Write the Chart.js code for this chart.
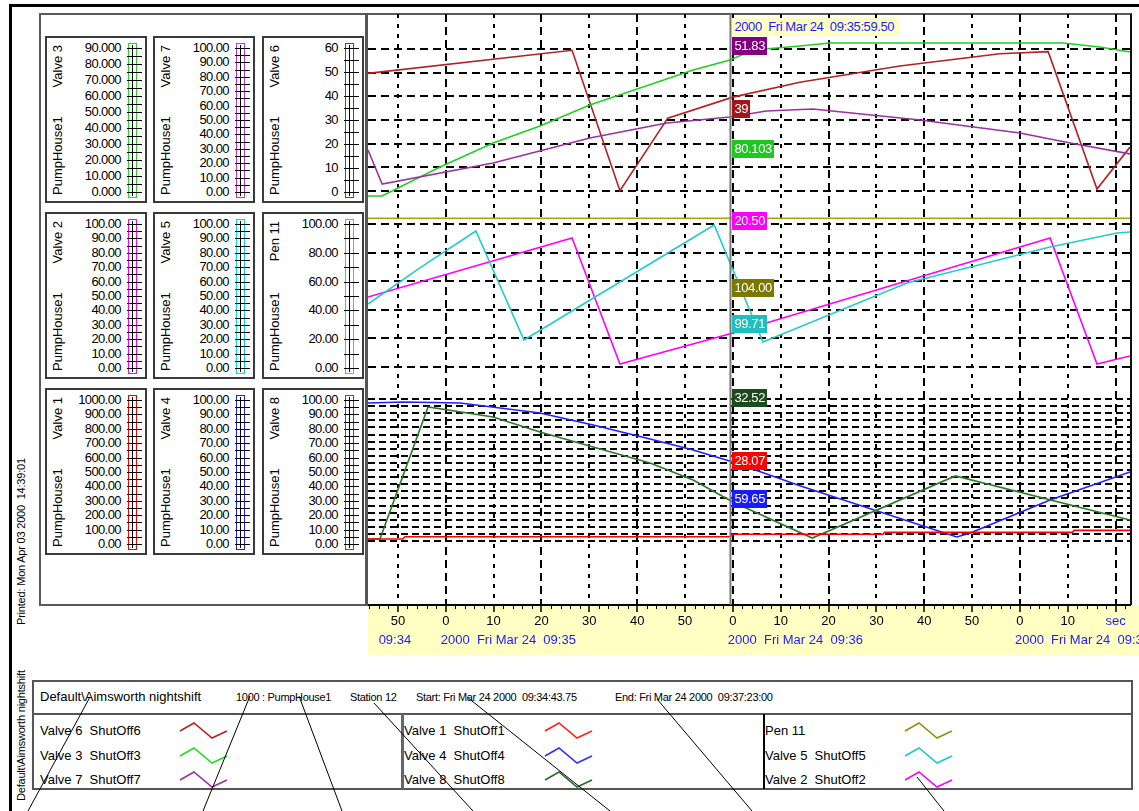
<!DOCTYPE html>
<html lang="en">
<head>
<meta charset="UTF-8" />
<title>PumpHouse1 trend</title>
<script src="https://cdn.jsdelivr.net/npm/chart.js"></script>
<style>
  html, body { margin: 0; padding: 0; background: #fff; }
  body { width: 1139px; height: 811px; position: relative; overflow: hidden;
         font-family: 'Liberation Sans', Arial, sans-serif; color: #000; }
  .abs { position: absolute; }
  .panel { position: absolute; width: 102px; height: 167px; box-sizing: border-box;
           border: 2px solid #3a3a3a; background: #fff; }
  .ptitle { position: absolute; left: 3px; top: 157px; width: 150px; height: 16px; line-height: 16px;
            font-size: 13px; display: flex; justify-content: space-between; white-space: nowrap;
            transform-origin: 0 0; transform: rotate(-90deg); }
  .plab { position: absolute; left: 0; width: 74px; height: 16px; line-height: 16px; text-align: right;
          font-size: 13px; letter-spacing: -0.6px; }
  .pbar { position: absolute; left: 81px; top: 5px; width: 9px; height: 155px; box-sizing: border-box;
          border: 1.5px solid; }
  .paxis { position: absolute; left: 85px; top: 7px; width: 1px; height: 151px; background: #000; }
  .ptick { position: absolute; left: 80px; width: 15px; height: 1px; background: #000; }
  .tag { position: absolute; height: 18px; line-height: 18px; padding: 0 2px; font-size: 13px;
         letter-spacing: -0.4px; color: #fff; white-space: pre; z-index: 5; }
  .rot { position: absolute; transform-origin: 0 0; transform: rotate(-90deg); white-space: pre;
         font-size: 11px; line-height: 14px; letter-spacing: -0.2px; }
  .ltxt { position: absolute; height: 16px; line-height: 16px; white-space: pre; }
  #chartBox { position: absolute; left: 368px; top: 14px; width: 771px; height: 646px; z-index: 2; }
  #overlay { position: absolute; left: 0; top: 0; z-index: 6; pointer-events: none; }
</style>
</head>
<body>
<!-- outer frame -->
<div class="abs" style="left:9px;top:4px;width:1130px;height:3px;background:#000"></div>
<div class="abs" style="left:9px;top:4px;width:3px;height:807px;background:#000"></div>
<div class="abs" style="left:39px;top:13px;width:1093px;height:593px;box-sizing:border-box;border:2px solid #5a5a5a;border-right-color:#111"></div>
<div class="abs" style="left:365px;top:13px;width:3px;height:593px;background:#555"></div>

<div class="rot" style="left:14px;top:625px">Printed: Mon Apr 03 2000  14:39:01</div>
<div class="rot" style="left:14px;top:801px">Default\Aimsworth nightshift</div>

<div id="chartBox"><canvas id="trend" width="771" height="646"></canvas></div>

<!-- legend -->
<div class="abs" style="left:32px;top:680px;width:1101px;height:110px;box-sizing:border-box;border:2px solid #555"></div>
<div class="abs" style="left:32px;top:713px;width:1101px;height:2px;background:#555"></div>
<div class="abs" style="left:401px;top:714px;width:3px;height:75px;background:#666"></div>
<div class="abs" style="left:763px;top:714px;width:1.5px;height:75px;background:#000"></div>
<div id="legend"></div>

<svg id="overlay" width="1139" height="811"></svg>

<script>
  // time in seconds after 09:34:00 (Fri Mar 24 2000)
  const tStart = 43.75;
  const tEnd = 203;
  const cursorT = 119.5;

  const timeTicks = [50, 60, 70, 80, 90, 100, 110, 120, 130, 140, 150, 160, 170, 180, 190, 200];
  const timeLabels = ['50', '0', '10', '20', '30', '40', '50', '0', '10', '20', '30', '40', '50', '0', '10', 'sec'];
  const dateTicks = [50, 60, 120, 180];
  const dateLabels = ['09:34', '2000  Fri Mar 24  09:35', '2000  Fri Mar 24  09:36', '2000  Fri Mar 24  09:37'];

  const topGrid = [0, 10, 20, 30, 40, 50, 60];
  const midGrid = [0, 20, 40, 60, 80, 100];
  const botGrid = [0, 5, 10, 15, 20, 25, 30, 35, 40, 45, 50, 55, 60, 65, 70, 75, 80, 85, 90, 95, 100];

  // top panel
  const valve6T = [43.75, 86.4, 96.4, 106.4, 120, 134, 154.9, 175.8, 185.9, 196.1, 203];
  const valve6 = [49.8, 59.6, 0, 30.8, 39.7, 46, 52.9, 58.1, 59, 0.7, 18.5];
  const valve3T = [43.75, 46.7, 58.8, 69.9, 79.7, 90.1, 100.6, 111.7, 119.4, 124.2, 134, 140.3, 189, 196.7, 203];
  const valve3 = [-3.4, -3.4, 15.1, 30.4, 41.2, 54.5, 65.4, 76.8, 83.2, 89.6, 92.1, 94, 94, 91.5, 88.3];
  const valve7T = [43.75, 46.7, 69.9, 90.1, 106.2, 119.4, 127, 136.7, 159.1, 180, 190.5, 203];
  const valve7 = [28.8, 4.7, 19.6, 37.3, 47.9, 52.1, 56.4, 57.8, 50, 40.8, 33.7, 26];

  // middle panel
  const pen11T = [43.75, 203];
  const pen11 = [104, 104];
  const valve2T = [43.75, 86.4, 96.4, 120, 186.3, 196.1, 203];
  const valve2 = [48.8, 90.2, 1.9, 23.6, 90.2, 1.9, 7.5];
  const valve5T = [43.75, 54.6, 66.3, 76.35, 116.1, 126.3, 156.4, 186.3, 200.3, 203];
  const valve5 = [43.9, 69.2, 95.1, 18.7, 99.3, 17.3, 58.7, 83.9, 93.7, 94.4];

  // bottom panel
  const valve1T = [43.75, 51, 51.5, 119.5, 120, 151.4, 151.7, 191, 191.3, 203];
  const valve1 = [14, 14, 30, 30, 48, 48, 61, 61, 75, 75];
  const valve4T = [43.75, 51.1, 63, 79.7, 90.8, 102.7, 111.7, 120, 134, 166.8, 169.6, 186.3, 203];
  const valve4 = [97.2, 97.9, 97.2, 90.1, 81.7, 71.8, 64.1, 55.6, 38.9, 2.8, 5.6, 28.9, 48.6];
  const valve8T = [43.75, 46.25, 56.3, 69.9, 79.7, 90.8, 102.7, 111.7, 120, 136.6, 166.5, 203];
  const valve8 = [1.4, 1.4, 94.4, 87.3, 76.8, 66.2, 54.9, 43, 27.5, 2.1, 45.8, 14.8];

  // cursor read-outs
  const tagTexts = ['51.83', '39', '80.103', '20.50', '104.00', '99.71', '32.52', '28.07', '59.65'];
  const tagColors = ['#800080', '#a51515', '#1ec81e', '#ff00ff', '#7a7800', '#1fbfbf', '#1d4a1d', '#ff0000', '#1a1aff'];

  // scale boxes on the left
  const axisPanels = [
    { tag: 'Valve 3', color: '#22dd22', labels: ['90.000', '80.000', '70.000', '60.000', '50.000', '40.000', '30.000', '20.000', '10.000', '0.000'] },
    { tag: 'Valve 7', color: '#cc33cc', labels: ['100.00', '90.00', '80.00', '70.00', '60.00', '50.00', '40.00', '30.00', '20.00', '10.00', '0.00'] },
    { tag: 'Valve 6', color: '#cc1a1a', labels: ['60', '50', '40', '30', '20', '10', '0'] },
    { tag: 'Valve 2', color: '#ff00ff', labels: ['100.00', '90.00', '80.00', '70.00', '60.00', '50.00', '40.00', '30.00', '20.00', '10.00', '0.00'] },
    { tag: 'Valve 5', color: '#00dddd', labels: ['100.00', '90.00', '80.00', '70.00', '60.00', '50.00', '40.00', '30.00', '20.00', '10.00', '0.00'] },
    { tag: 'Pen 11', color: '#b0b000', labels: ['100.00', '80.00', '60.00', '40.00', '20.00', '0.00'] },
    { tag: 'Valve 1', color: '#ff0000', labels: ['1000.00', '900.00', '800.00', '700.00', '600.00', '500.00', '400.00', '300.00', '200.00', '100.00', '0.00'] },
    { tag: 'Valve 4', color: '#2020ff', labels: ['100.00', '90.00', '80.00', '70.00', '60.00', '50.00', '40.00', '30.00', '20.00', '10.00', '0.00'] },
    { tag: 'Valve 8', color: '#208020', labels: ['100.00', '90.00', '80.00', '70.00', '60.00', '50.00', '40.00', '30.00', '20.00', '10.00', '0.00'] }
  ];

  const legendCols = [
    [['Valve 6  ShutOff6', '#b22222'], ['Valve 3  ShutOff3', '#22dd22'], ['Valve 7  ShutOff7', '#9932a0']],
    [['Valve 1  ShutOff1', '#ff2020'], ['Valve 4  ShutOff4', '#3030ff'], ['Valve 8  ShutOff8', '#2a6a2a']],
    [['Pen 11', '#8f8f10'], ['Valve 5  ShutOff5', '#20c8c8'], ['Valve 2  ShutOff2', '#ff00ff']]
  ];
  const headerItems = [
    ['Default\\Aimsworth nightshift', 40, 13],
    ['1000 : PumpHouse1', 236, 11],
    ['Station 12', 350, 11],
    ['Start: Fri Mar 24 2000  09:34:43.75', 416, 11],
    ['End: Fri Mar 24 2000  09:37:23:00', 615, 11]
  ];

  // ---- left scale panels ----
  const PANEL_ROWS = [36, 212, 388];
  const PANEL_COLS = [45, 153, 262];
  axisPanels.forEach((p, i) => {
    const box = document.createElement('div');
    box.className = 'panel';
    box.style.left = PANEL_COLS[i % 3] + 'px';
    box.style.top = PANEL_ROWS[Math.floor(i / 3)] + 'px';
    const title = document.createElement('div');
    title.className = 'ptitle';
    title.innerHTML = '<span>PumpHouse1</span><span>' + p.tag + '</span>';
    box.appendChild(title);
    const n = p.labels.length;
    p.labels.forEach((lab, k) => {
      const d = document.createElement('div');
      d.className = 'plab';
      d.textContent = lab;
      d.style.top = (10 + 144 * k / (n - 1) - 8) + 'px';
      box.appendChild(d);
    });
    const bar = document.createElement('div');
    bar.className = 'pbar';
    bar.style.borderColor = p.color;
    box.appendChild(bar);
    const ax = document.createElement('div');
    ax.className = 'paxis';
    box.appendChild(ax);
    for (let k = 0; k <= 2 * (n - 1); k++) {
      const t = document.createElement('div');
      t.className = 'ptick';
      t.style.top = Math.round(10 + 72 * k / (n - 1)) + 'px';
      box.appendChild(t);
    }
    document.body.appendChild(box);
  });

  // ---- legend ----
  const legend = document.getElementById('legend');
  const overlay = document.getElementById('overlay');
  const SVG = 'http://www.w3.org/2000/svg';
  headerItems.forEach(([txt, x, size]) => {
    const d = document.createElement('div');
    d.className = 'ltxt';
    d.textContent = txt;
    d.style.left = x + 'px';
    d.style.top = '689px';
    d.style.fontSize = size + 'px';
    if (size < 13) d.style.letterSpacing = '-0.3px';
    legend.appendChild(d);
  });
  const colText = [40, 404, 765];
  const colSample = [180, 545, 905];
  const rowMid = [731, 756, 780];
  legendCols.forEach((col, c) => {
    col.forEach(([txt, color], r) => {
      const d = document.createElement('div');
      d.className = 'ltxt';
      d.textContent = txt;
      d.style.left = colText[c] + 'px';
      d.style.top = (rowMid[r] - 8) + 'px';
      d.style.fontSize = '13px';
      legend.appendChild(d);
      const x0 = colSample[c], y0 = rowMid[r] - 9;
      const pl = document.createElementNS(SVG, 'polyline');
      pl.setAttribute('points', [[0, 9], [14, 1], [32, 16], [47, 9]].map(([a, b]) => (x0 + a) + ',' + (y0 + b)).join(' '));
      pl.setAttribute('fill', 'none');
      pl.setAttribute('stroke', color);
      pl.setAttribute('stroke-width', '1.6');
      overlay.appendChild(pl);
    });
  });
  // pointer lines running off the bottom edge
  [[90, 697, 28, 811], [250, 696, 203, 811], [299, 696, 342, 811], [374, 703, 473, 811],
   [467, 697, 610, 811], [657, 699, 752, 811], [917, 777, 944, 811]].forEach(([x1, y1, x2, y2]) => {
    const ln = document.createElementNS(SVG, 'line');
    ln.setAttribute('x1', x1); ln.setAttribute('y1', y1);
    ln.setAttribute('x2', x2); ln.setAttribute('y2', y2);
    ln.setAttribute('stroke', '#000');
    ln.setAttribute('stroke-width', '1');
    overlay.appendChild(ln);
  });

  // ---- chart ----
  Chart.defaults.font.family = "'Liberation Sans', Arial, sans-serif";
  Chart.defaults.animation = false;

  const PLOT_TOP = 14, PLOT_BOTTOM = 605;
  // value v0 sits at page row p0 and v1 at p1; stretch the range over the whole plot height
  function panelRange(v0, p0, v1, p1) {
    const k = (v1 - v0) / (p0 - p1);
    return { min: v0 - (PLOT_BOTTOM - p0) * k, max: v1 + (p1 - PLOT_TOP) * k };
  }
  function hiddenAxis(r) {
    return { type: 'linear', display: false, min: r.min, max: r.max };
  }
  function gridAxis(r, values, dash) {
    return {
      type: 'linear', position: 'left', min: r.min, max: r.max,
      afterBuildTicks: a => { a.ticks = values.map(v => ({ value: v })); },
      afterFit: a => { a.width = 0; a.paddingTop = 0; a.paddingBottom = 0; },
      ticks: { display: false },
      grid: { color: '#000', lineWidth: 2, drawTicks: false },
      border: { display: false, dash: dash }
    };
  }
  function series(label, ts, vs, color, axis) {
    return {
      label, data: ts.map((t, i) => ({ x: t, y: vs[i] })),
      borderColor: color, borderWidth: 1.6, pointRadius: 0, tension: 0, fill: false, yAxisID: axis
    };
  }

  const trendDecor = {
    id: 'trendDecor',
    beforeDraw(chart) {
      const { ctx, chartArea: a, width, height } = chart;
      ctx.save();
      ctx.fillStyle = '#ffffc4';
      ctx.fillRect(a.left, a.bottom, width - a.left, height - a.bottom - 5);
      ctx.restore();
    },
    afterDraw(chart) {
      const { ctx, chartArea: a, scales: { x } } = chart;
      ctx.save();
      ctx.strokeStyle = '#000';
      ctx.lineWidth = 1;
      for (let t = Math.ceil(tStart / 2) * 2; t <= tEnd; t += 2) {
        if (t % 10 === 0) continue;
        const px = Math.round(x.getPixelForValue(t)) + 0.5;
        ctx.beginPath(); ctx.moveTo(px, a.bottom); ctx.lineTo(px, a.bottom + 4); ctx.stroke();
      }
      const cx = x.getPixelForValue(cursorT);
      ctx.strokeStyle = '#7a7a7a';
      ctx.lineWidth = 2;
      ctx.beginPath(); ctx.moveTo(cx, a.top); ctx.lineTo(cx, a.bottom); ctx.stroke();
      ctx.font = "13px 'Liberation Sans', Arial, sans-serif";
      ctx.fillStyle = '#1c1cff';
      ctx.textBaseline = 'middle';
      dateTicks.forEach((t, i) => {
        const px = x.getPixelForValue(t);
        ctx.textAlign = i === 0 ? 'center' : 'left';
        ctx.fillText(dateLabels[i], i === 0 ? px - 3 : px - 5, a.bottom + 35);
      });
      ctx.restore();
    }
  };

  const rV6 = panelRange(0, 190.7, 60, 49.3);
  const rV3 = panelRange(0, 190.7, 90, 49.3);
  const rV7 = panelRange(0, 190.7, 100, 49.3);
  const rMid = panelRange(0, 366.7, 100, 224);
  const rV1 = panelRange(0, 541, 1000, 399);
  const rBot = panelRange(0, 541, 100, 399);

  const chart = new Chart(document.getElementById('trend'), {
    type: 'line',
    data: {
      datasets: [
        series('Pen 11', pen11T, pen11, '#aaa400', 'yMid'),
        series('Valve 5  ShutOff5', valve5T, valve5, '#22cccc', 'yMid'),
        series('Valve 2  ShutOff2', valve2T, valve2, '#ff00ff', 'yMid'),
        series('Valve 7  ShutOff7', valve7T, valve7, '#9932a0', 'yV7'),
        series('Valve 3  ShutOff3', valve3T, valve3, '#1fd11f', 'yV3'),
        series('Valve 6  ShutOff6', valve6T, valve6, '#b22222', 'yV6'),
        series('Valve 1  ShutOff1', valve1T, valve1, '#ff0000', 'yV1'),
        series('Valve 8  ShutOff8', valve8T, valve8, '#2a7a2a', 'yBot'),
        series('Valve 4  ShutOff4', valve4T, valve4, '#2020ff', 'yBot')
      ]
    },
    options: {
      responsive: false,
      layout: { padding: { right: 9 } },
      plugins: { legend: { display: false }, tooltip: { enabled: false } },
      scales: {
        x: {
          type: 'linear', position: 'bottom', min: tStart, max: tEnd,
          afterBuildTicks: a => { a.ticks = timeTicks.map(v => ({ value: v })); },
          afterFit: a => { a.height = 55; a.paddingLeft = 0; a.paddingRight = 0; },
          ticks: {
            autoSkip: false, maxRotation: 0, padding: 2, font: { size: 13 },
            color: c => (c.tick && c.tick.value === 200 ? '#1c1cff' : '#000'),
            callback: (v, i) => timeLabels[i]
          },
          grid: { color: '#000', lineWidth: 2, tickLength: 7, tickWidth: 1.5, tickColor: '#000' },
          border: {
            display: true, color: '#000', width: 2,
            dash: c => (c.tick && c.tick.value % 20 === 10 ? [4, 6] : [8, 5])
          }
        },
        yV6: gridAxis(rV6, topGrid, [8, 5]),
        yMid: gridAxis(rMid, midGrid, [8, 5]),
        yBot: gridAxis(rBot, botGrid, [7, 4]),
        yV3: hiddenAxis(rV3),
        yV7: hiddenAxis(rV7),
        yV1: hiddenAxis(rV1)
      }
    },
    plugins: [trendDecor]
  });

  // read-out boxes beside the cursor
  const tagTops = [37, 100, 140, 212, 279, 315, 389, 452, 490];
  const cursorX = 368 + chart.scales.x.getPixelForValue(cursorT) + 2;
  const dateTag = document.createElement('div');
  dateTag.className = 'tag';
  dateTag.textContent = '2000  Fri Mar 24  09:35:59.50';
  dateTag.style.cssText += 'left:' + cursorX + 'px;top:18px;background:#ffffc0;color:#1c1cff;padding-right:6px;';
  document.body.appendChild(dateTag);
  tagTexts.forEach((txt, i) => {
    const d = document.createElement('div');
    d.className = 'tag';
    d.textContent = txt;
    d.style.left = cursorX + 'px';
    d.style.top = tagTops[i] + 'px';
    d.style.background = tagColors[i];
    document.body.appendChild(d);
  });
</script>
</body>
</html>
